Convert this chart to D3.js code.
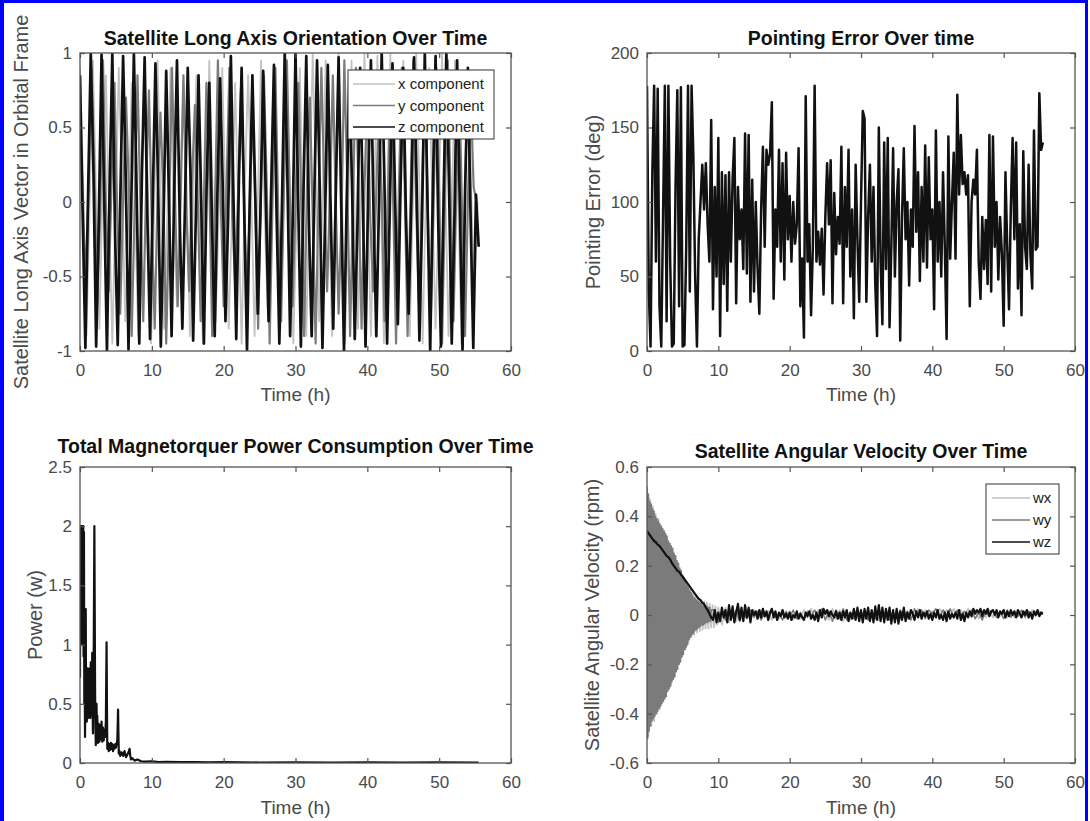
<!DOCTYPE html>
<html>
<head>
<meta charset="utf-8">
<script src="https://cdn.jsdelivr.net/npm/d3@7/dist/d3.min.js"></script>
<style>
  body { margin: 0; background: #fff; }
  svg { font-family: "Liberation Sans", Arial, Helvetica, sans-serif; display: block; }
</style>
</head>
<body>
<script>
// shared time axis
var timeTicks = [0, 10, 20, 30, 40, 50, 60];

// ---- top left: long axis vector components (sampled every step hours) ----
var orientTicks = [-1, -0.5, 0, 0.5, 1];
var orientStepX = 0.45, orientStepY = 0.4, orientStepZ = 0.375;
var orientX = [
  0.9, 0.1, -0.9, 0.0, 0.95, 0.0, -0.85, 0.1, 0.85, -0.1, -0.95, 0.0,
  0.9, 0.1, -0.8, -0.1, 0.8, 0.0, -0.9, 0.1, 0.85, 0.1, -0.95, 0.0,
  0.95, 0.0, -0.85, -0.1, 0.9, -0.1, -0.7, 0.1, 0.8, 0.1, -0.9, 0.0,
  0.85, 0.0, -0.95, 0.05, 0.95, 0.1, -0.8, 0.0, 0.9, 0.0, -0.85, -0.1,
  0.8, -0.1, -0.95, 0.1, 0.85, 0.05, -0.9, 0.0, 0.95, 0.0, -0.7, 0.1,
  0.9, 0.1, -0.85, 0.0, 0.85, 0.0, -0.95, -0.1, 0.9, -0.1, -0.9, 0.1,
  1.0, 0.1, -0.8, 0.0, 0.95, 0.0, -0.9, 0.05, 1.0, 0.1, -0.95, 0.0,
  0.95, -0.1, -0.85, 0.1, 1.0, 0.0, -0.9, 0.0, 0.98, 0.1, -0.95, -0.1,
  1.0, 0.0, -0.8, 0.1, 0.95, -0.1, -0.9, 0.0, 1.0, 0.1, -0.95, 0.05,
  0.9, 0.0, -0.85, 0.0, 1.0, 0.1, -0.9, -0.1, 0.95, 0.0, -0.95, 0.1,
  0.9, 0.1, -0.7, 0.0
];
var orientY = [
  0.6, 0.0, -0.55, 0.1, 0.9, 0.2, -0.7, -0.1, 0.95, 0.0, -0.6, 0.15,
  0.8, -0.1, -0.75, 0.0, 0.7, 0.1, -0.9, -0.05, 0.85, 0.0, -0.8, 0.1,
  0.75, -0.15, -0.85, 0.05, 0.6, 0.05, -0.95, -0.1, 0.9, 0.1, -0.7, 0.0,
  0.85, -0.05, -0.6, 0.15, 0.65, 0.0, -0.8, -0.1, 0.8, 0.15, -0.9, 0.0,
  0.95, 0.0, -0.7, 0.1, 0.9, -0.1, -0.55, 0.05, 0.75, 0.1, -0.65, -0.1,
  0.6, 0.0, -0.85, 0.1, 0.85, 0.1, -0.95, 0.0, 0.9, -0.1, -0.8, 0.1,
  0.95, 0.05, -0.7, -0.05, 0.8, 0.0, -0.9, 0.1, 0.7, -0.1, -0.95, 0.0,
  0.9, 0.1, -0.6, 0.05, 0.85, 0.0, -0.75, -0.1, 0.95, 0.15, -0.9, 0.0,
  0.9, 0.0, -0.85, 0.1, 0.7, -0.1, -0.6, 0.0, 0.6, 0.05, -0.8, -0.1,
  0.8, 0.0, -0.95, 0.1, 0.9, 0.1, -0.9, 0.0, 0.95, -0.05, -0.7, 0.05,
  0.85, 0.0, -0.85, -0.1, 0.9, 0.1, -0.95, 0.0, 0.95, 0.0, -0.8, 0.1,
  0.8, -0.1, -0.9, 0.0, 0.7, 0.1, 0.0
];
var orientZ = [
  0.85, -0.1, -0.98, 0.05, 1.0, 0.2, -0.97, -0.1, 0.99, 0.0, -1.0, 0.1,
  1.0, -0.2, -0.96, 0.05, 0.98, 0.15, -0.99, -0.05, 1.0, 0.1, -0.95, 0.2,
  0.97, -0.1, -0.92, 0.0, 0.93, 0.1, -0.97, -0.15, 0.88, 0.05, -0.9, 0.1,
  0.95, -0.1, -0.85, 0.0, 0.9, 0.2, -0.93, -0.1, 0.85, 0.0, -0.95, 0.1,
  0.8, -0.15, -0.9, 0.05, 0.83, 0.1, -0.8, -0.1, 0.98, 0.0, -0.92, 0.15,
  0.9, -0.1, -1.0, 0.0, 0.85, 0.1, -0.75, -0.05, 0.88, 0.0, -0.8, 0.1,
  0.92, -0.1, -0.95, 0.0, 1.0, 0.15, -0.9, -0.1, 1.0, 0.0, -0.97, 0.1,
  0.98, -0.15, -0.9, 0.05, 0.95, 0.1, -0.98, -0.1, 0.92, 0.0, -0.85, 0.1,
  0.97, -0.05, -1.0, 0.0, 0.85, 0.1, -0.92, -0.15, 0.9, 0.0, -0.97, 0.1,
  0.95, -0.1, -0.9, 0.0, 1.0, 0.15, -0.95, -0.05, 0.93, 0.0, -0.82, 0.1,
  0.9, -0.1, -0.75, 0.0, 0.97, 0.1, -0.93, -0.1, 1.0, 0.0, -1.0, 0.1,
  0.98, -0.15, -0.97, 0.05, 1.0, 0.1, -0.95, -0.1, 0.95, 0.0, -1.0, 0.1,
  0.9, -0.1, -0.98, 0.05, -0.3
];
var orientLegend = ["x component", "y component", "z component"];

// ---- top right: pointing error (deg), every 0.25 h ----
var pointTicks = [0, 50, 100, 150, 200];
var pointStep = 0.25;
var pointErr = [
  178, 40, 3, 120, 178, 60, 176, 30, 3, 90, 178, 20, 178, 60, 3, 5,
  110, 175, 30, 177, 3, 4, 70, 178, 40, 178, 130, 50, 3, 75,
  100, 125, 95, 126, 85, 60, 155, 28, 110, 50, 143, 10, 120, 45, 118, 27,
  120, 60, 115, 143, 32, 110, 75, 95, 55, 146, 52, 145, 33, 115, 40, 100,
  55, 25, 95, 137, 70, 135, 125, 132, 167, 35, 95, 70, 135, 60, 126, 48,
  133, 75, 104, 60, 100, 72, 85, 136, 30, 62, 9, 171, 60, 85, 24, 70,
  178, 60, 80, 58, 82, 38, 90, 126, 85, 128, 32, 106, 65, 90, 72, 137,
  32, 110, 70, 135, 50, 95, 22, 125, 75, 33, 100, 161, 156, 33, 90, 125,
  60, 110, 45, 10, 150, 60, 18, 140, 55, 143, 16, 70, 136, 50, 100, 122,
  7, 90, 136, 75, 100, 44, 95, 70, 151, 80, 120, 47, 110, 60, 138, 56,
  130, 75, 95, 28, 148, 60, 100, 50, 120, 70, 8, 144, 62, 100, 133, 62,
  172, 105, 145, 112, 120, 105, 118, 30, 100, 115, 105, 135, 60, 35, 90, 55,
  88, 45, 145, 40, 144, 70, 100, 48, 90, 65, 17, 120, 70, 28, 95, 143,
  75, 140, 42, 85, 24, 134, 70, 55, 125, 65, 42, 148, 68, 70, 173, 135, 140
];

// ---- bottom left: magnetorquer power (W) ----
var powerTicks = [0, 0.5, 1, 1.5, 2, 2.5];
var powerTime = [
  0, 0.05, 0.1, 0.15, 0.2, 0.25, 0.3, 0.35, 0.4, 0.45, 0.5, 0.55, 0.6, 0.65, 0.7, 0.75,
  0.8, 0.85, 0.9, 0.95, 1.0, 1.05, 1.1, 1.15, 1.2, 1.25, 1.3, 1.35, 1.4, 1.45, 1.5, 1.55,
  1.6, 1.65, 1.7, 1.75, 1.8, 1.85, 1.9, 1.95, 2.0, 2.05, 2.1, 2.15, 2.2, 2.25, 2.3, 2.35,
  2.4, 2.5, 2.6, 2.7, 2.8, 2.9, 3.0, 3.1, 3.2, 3.3, 3.4, 3.5, 3.6, 3.7, 3.75, 3.8,
  3.9, 4.0, 4.1, 4.2, 4.3, 4.4, 4.5, 4.6, 4.7, 4.8, 4.9, 5.0, 5.1, 5.2, 5.3, 5.35,
  5.4, 5.5, 5.6, 5.8, 6.0, 6.2, 6.4, 6.6, 6.8, 6.9, 7.0, 7.1, 7.3, 7.6, 8.0, 8.5,
  9, 10, 11, 12, 14, 16, 18, 20, 25, 30, 35, 40, 45, 50, 55.5
];
var powerVal = [
  0.72, 2.0, 1.2, 2.0, 1.6, 2.0, 1.0, 2.0, 1.5, 2.0, 0.9, 1.95, 0.5, 0.8, 0.22, 0.9,
  1.3, 0.4, 0.75, 0.35, 0.8, 0.4, 0.7, 0.38, 0.78, 0.45, 0.8, 0.4, 0.65, 0.38, 0.85, 0.5,
  0.75, 0.4, 0.93, 0.6, 0.25, 0.5, 0.8, 1.4, 2.0, 1.3, 0.6, 0.3, 0.15, 0.3, 0.5, 0.25,
  0.4, 0.17, 0.33, 0.18, 0.32, 0.2, 0.35, 0.18, 0.3, 0.19, 0.28, 0.22, 0.35, 1.02, 0.5, 0.12,
  0.17, 0.1, 0.16, 0.11, 0.17, 0.12, 0.16, 0.1, 0.15, 0.12, 0.16, 0.13, 0.16, 0.2, 0.45, 0.25,
  0.08, 0.1, 0.06, 0.09, 0.06, 0.1, 0.05, 0.07, 0.1, 0.12, 0.06, 0.03, 0.04, 0.02, 0.03, 0.015,
  0.012, 0.015, 0.008, 0.01, 0.007, 0.008, 0.005, 0.007, 0.004, 0.005, 0.004, 0.005, 0.004, 0.005, 0.004
];

// ---- bottom right: angular velocity (rpm) ----
var omegaTicks = [-0.6, -0.4, -0.2, 0, 0.2, 0.4, 0.6];
var omegaLegend = ["wx", "wy", "wz"];
// wx: every 0.2 h until 10 h, then every 0.5 h from 10.5 h
var wxEarly = [
  0.5, -0.49, 0.47, -0.45, 0.44, -0.43,
  0.41, -0.4, 0.39, -0.38, 0.36,
  -0.35, 0.34, -0.33, 0.31, -0.3,
  0.29, -0.28, 0.26, -0.25, 0.24,
  -0.22, 0.21, -0.19, 0.18, -0.16,
  0.15, -0.14, 0.12, -0.11, 0.1,
  -0.09, 0.085, -0.08, 0.075, -0.07,
  0.065, -0.065, 0.06, -0.06, 0.055,
  -0.055, 0.05, -0.055, 0.045, -0.05,
  0.04, -0.05, 0.035, -0.04, 0.03
];
var wxLate = [
  -0.04, 0.03, -0.03, 0.02, -0.025, 0.025, -0.02, 0.015, -0.02, 0.02,
  -0.015, 0.02, -0.01, 0.015, -0.02, 0.01, -0.015, 0.02, -0.01, 0.015,
  -0.02, 0.01, -0.015, 0.02, -0.01, 0.025, -0.015, 0.02, -0.01, 0.015,
  -0.02, 0.025, -0.015, 0.02, -0.025, 0.015, -0.02, 0.02, -0.01, 0.015,
  -0.015, 0.02, -0.01, 0.015, -0.02, 0.01, -0.015, 0.02, -0.01, 0.015,
  -0.01, 0.02, -0.015, 0.02, -0.01, 0.025, -0.015, 0.02, -0.01, 0.015,
  0.0, 0.025, 0.005, 0.02, -0.005, 0.025, 0.0, 0.02, -0.01, 0.025,
  -0.01, 0.02, -0.015, 0.015, -0.01, 0.02, -0.01, 0.015, -0.005, 0.02,
  -0.01, 0.015, -0.01, 0.02, -0.005, 0.015, -0.01, 0.02, -0.005, 0.015,
  0.01
];
// wy: every 0.1 h until 9 h, then every 0.5 h from 9.5 h
var wyEarly = [
  0.52, -0.5, 0.49, -0.47, 0.46, -0.45, 0.45, -0.43, 0.43, -0.42,
  0.42, -0.41, 0.4, -0.4, 0.39, -0.39, 0.38, -0.38, 0.37, -0.37,
  0.36, -0.36, 0.35, -0.35, 0.34, -0.34, 0.33, -0.33, 0.32, -0.31,
  0.3, -0.3, 0.29, -0.29, 0.28, -0.27, 0.27, -0.26, 0.25, -0.25,
  0.24, -0.23, 0.22, -0.22, 0.21, -0.2, 0.19, -0.19, 0.18, -0.17,
  0.16, -0.16, 0.15, -0.14, 0.14, -0.13, 0.12, -0.12, 0.11, -0.1,
  0.1, -0.09, 0.09, -0.08, 0.08, -0.075, 0.07, -0.065, 0.065, -0.06,
  0.06, -0.055, 0.055, -0.05, 0.05, -0.045, 0.045, -0.04, 0.04, -0.04,
  0.04, -0.035, 0.035, -0.03, 0.035, -0.03, 0.03, -0.025, 0.03, -0.025,
  0.02
];
var wyLate = [
  0.02, -0.03, 0.015, -0.02, 0.025, -0.01, 0.02, -0.025, 0.01, -0.015,
  0.02, -0.01, 0.015, -0.02, 0.01, -0.015, 0.02, -0.01, 0.005, -0.02,
  0.015, -0.01, 0.02, -0.015, 0.01, -0.02, 0.015, -0.005, 0.02, -0.015,
  0.025, -0.02, 0.015, -0.025, 0.02, -0.015, 0.025, -0.02, 0.01, -0.015,
  0.02, -0.01, 0.015, -0.02, 0.01, -0.015, 0.02, -0.005, 0.015, -0.02,
  0.01, -0.015, 0.02, -0.01, 0.015, -0.02, 0.025, -0.01, 0.02, -0.015,
  0.02, 0.005, 0.025, -0.005, 0.02, 0.0, 0.025, -0.01, 0.02, -0.005,
  0.015, -0.01, 0.02, -0.015, 0.01, -0.02, 0.015, -0.005, 0.02, -0.01,
  0.015, -0.015, 0.02, -0.01, 0.015, -0.005, 0.02, -0.01, 0.015, -0.005,
  0.01, 0.0, 0.005
];
// wz: every 0.25 h
var wzStep = 0.25;
var wz = [
  0.34, 0.33, 0.32, 0.31, 0.3, 0.295, 0.285, 0.28, 0.27, 0.26, 0.25, 0.24,
  0.235, 0.225, 0.21, 0.2, 0.19, 0.18, 0.175, 0.165, 0.155, 0.145, 0.135, 0.125,
  0.115, 0.105, 0.095, 0.085, 0.075, 0.065, 0.06, 0.05, 0.045, 0.03, 0.02, 0.005, -0.01,
  -0.02, 0.02, -0.03, 0.01, -0.025, 0.03, -0.01, 0.02,
  -0.03, 0.04, -0.02, 0.035, -0.03, 0.01, 0.045, -0.02,
  0.03, -0.025, 0.04, -0.01, 0.03, -0.03, 0.02, 0.0,
  0.015, -0.015, 0.02, -0.01, 0.025, -0.005, 0.015, -0.02,
  0.01, 0.025, -0.01, 0.015, -0.02, 0.01, -0.005, 0.02,
  -0.01, 0.005, -0.015, 0.01, -0.02, 0.0, -0.01, 0.015,
  -0.015, 0.005, -0.01, -0.02, 0.01, -0.005, 0.015, -0.015,
  0.0, -0.02, 0.01, -0.025, 0.02, -0.01, 0.025, 0.005,
  0.02, -0.005, 0.015, 0.0, -0.01, 0.015, -0.015, 0.01,
  -0.02, 0.015, -0.01, 0.02, -0.025, 0.01, -0.015, 0.025,
  -0.02, 0.03, -0.025, 0.02, -0.03, 0.025, -0.015, 0.03,
  -0.025, 0.02, -0.03, 0.035, -0.02, 0.04, -0.025, 0.03,
  -0.03, 0.025, -0.02, 0.03, -0.035, 0.02, -0.03, 0.025,
  -0.035, 0.015, -0.02, 0.03, -0.025, 0.01, -0.015, 0.02,
  0.005, -0.02, 0.015, -0.01, 0.02, -0.015, 0.01, -0.005,
  0.015, -0.015, 0.005, -0.02, 0.01, -0.01, 0.02, -0.015,
  0.0, -0.02, 0.01, -0.025, 0.015, -0.015, 0.005, -0.01,
  0.01, -0.015, 0.02, -0.02, 0.005, -0.025, 0.01, -0.01,
  0.015, -0.005, 0.025, 0.005, 0.02, 0.01, 0.025, -0.005,
  0.02, 0.005, 0.025, -0.005, 0.015, 0.02, 0.0, 0.02,
  -0.01, 0.015, 0.005, 0.02, -0.01, 0.015, -0.005, 0.02,
  0.0, 0.015, -0.01, 0.02, 0.005, -0.01, 0.015, 0.0,
  0.02, -0.01, 0.01, -0.015, 0.015, 0.0, 0.02, -0.005,
  0.01, 0.005
];

var lightGray = "#c2c2c2",
  midGray = "#7b7b7b",
  dark = "#111111",
  axisColor = "#555555",
  textColor = "#4a4a4a";

var svg = d3
  .select("body")
  .append("svg")
  .attr("width", 1090)
  .attr("height", 821);

svg.append("rect").attr("width", 1090).attr("height", 821).attr("fill", "#fff");

// blue frame round the figure
svg.append("rect").attr("x", 0).attr("y", 0).attr("width", 4).attr("height", 821).attr("fill", "#0000ff");
svg.append("rect").attr("x", 0).attr("y", 0).attr("width", 1088).attr("height", 3).attr("fill", "#0000ff");
svg.append("rect").attr("x", 1085).attr("y", 0).attr("width", 3).attr("height", 821).attr("fill", "#0000ff");

// turn a uniformly sampled list into [t, v] pairs
function sampled(values, start, step) {
  return values.map(function (v, i) {
    return [start + i * step, v];
  });
}

var clipCount = 0;

function makePanel(cfg) {
  var x = d3.scaleLinear().domain([0, 60]).range([cfg.left, cfg.right]);
  var y = d3.scaleLinear().domain(cfg.yDomain).range([cfg.bottom, cfg.top]);

  var g = svg.append("g");
  var clipId = "clip" + clipCount++;
  g.append("clipPath")
    .attr("id", clipId)
    .append("rect")
    .attr("x", cfg.left)
    .attr("y", cfg.top)
    .attr("width", cfg.right - cfg.left)
    .attr("height", cfg.bottom - cfg.top);

  var plot = g.append("g").attr("clip-path", "url(#" + clipId + ")");

  var line = d3
    .line()
    .x(function (d) { return x(d[0]); })
    .y(function (d) { return y(d[1]); });

  cfg.series.forEach(function (s) {
    plot
      .append("path")
      .datum(s.points)
      .attr("fill", "none")
      .attr("stroke", s.color)
      .attr("stroke-width", s.width || 1.8)
      .attr("stroke-linejoin", "round")
      .attr("d", line);
  });

  // axes, ticks pointing inwards on all four sides
  var fmt = function (d) { return String(d); };
  var bottomAxis = g
    .append("g")
    .attr("transform", "translate(0," + cfg.bottom + ")")
    .call(d3.axisBottom(x).tickValues(timeTicks).tickSizeInner(-5).tickSizeOuter(0).tickPadding(13).tickFormat(fmt));
  var topAxis = g
    .append("g")
    .attr("transform", "translate(0," + cfg.top + ")")
    .call(d3.axisTop(x).tickValues(timeTicks).tickSizeInner(-5).tickSizeOuter(0).tickFormat(""));
  var leftAxis = g
    .append("g")
    .attr("transform", "translate(" + cfg.left + ",0)")
    .call(d3.axisLeft(y).tickValues(cfg.yTicks).tickSizeInner(-5).tickSizeOuter(0).tickPadding(8).tickFormat(fmt));
  var rightAxis = g
    .append("g")
    .attr("transform", "translate(" + cfg.right + ",0)")
    .call(d3.axisRight(y).tickValues(cfg.yTicks).tickSizeInner(-5).tickSizeOuter(0).tickFormat(""));

  [bottomAxis, topAxis, leftAxis, rightAxis].forEach(function (a) {
    a.attr("font-family", null).attr("font-size", 17);
    a.select(".domain").remove();
    a.selectAll(".tick line").attr("stroke", axisColor).attr("stroke-width", 1.2);
    a.selectAll(".tick text").attr("fill", textColor);
  });

  g.append("rect")
    .attr("x", cfg.left)
    .attr("y", cfg.top)
    .attr("width", cfg.right - cfg.left)
    .attr("height", cfg.bottom - cfg.top)
    .attr("fill", "none")
    .attr("stroke", axisColor)
    .attr("stroke-width", 1.3);

  // title, axis labels
  g.append("text")
    .attr("x", (cfg.left + cfg.right) / 2)
    .attr("y", cfg.titleY)
    .attr("text-anchor", "middle")
    .attr("font-weight", "bold")
    .attr("font-size", 19.5)
    .attr("fill", "#111")
    .text(cfg.title);

  g.append("text")
    .attr("x", (cfg.left + cfg.right) / 2)
    .attr("y", cfg.xLabelY)
    .attr("text-anchor", "middle")
    .attr("font-size", 19)
    .attr("fill", textColor)
    .text("Time (h)");

  g.append("text")
    .attr("transform", "translate(" + cfg.yLabelX + "," + (cfg.top + cfg.bottom) / 2 + ") rotate(-90)")
    .attr("text-anchor", "middle")
    .attr("font-size", 20)
    .attr("fill", textColor)
    .text(cfg.yLabel);

  if (cfg.legend) {
    var lg = cfg.legend;
    var leg = g.append("g");
    leg
      .append("rect")
      .attr("x", lg.x)
      .attr("y", lg.y)
      .attr("width", lg.w)
      .attr("height", lg.h)
      .attr("fill", "#fff")
      .attr("stroke", "#333")
      .attr("stroke-width", 1);
    lg.labels.forEach(function (name, i) {
      var yy = lg.y + lg.first + i * lg.gap;
      leg
        .append("line")
        .attr("x1", lg.x + lg.lineFrom)
        .attr("x2", lg.x + lg.lineTo)
        .attr("y1", yy)
        .attr("y2", yy)
        .attr("stroke", cfg.series[i].color)
        .attr("stroke-width", 1.6);
      leg
        .append("text")
        .attr("x", lg.x + lg.lineTo + 3)
        .attr("y", yy)
        .attr("dy", "0.35em")
        .attr("font-size", 15)
        .attr("fill", "#222")
        .text(name);
    });
  }
}

// top left
makePanel({
  left: 80, right: 511, top: 53, bottom: 351,
  yDomain: [-1, 1], yTicks: orientTicks,
  title: "Satellite Long Axis Orientation Over Time",
  titleY: 45, xLabelY: 401, yLabelX: 28,
  yLabel: "Satellite Long Axis Vector in Orbital Frame",
  series: [
    { points: sampled(orientX, 0, orientStepX), color: lightGray, width: 1.8 },
    { points: sampled(orientY, 0, orientStepY), color: midGray, width: 2.2 },
    { points: sampled(orientZ, 0, orientStepZ), color: dark, width: 2.7 }
  ],
  legend: { labels: orientLegend, x: 348, y: 70, w: 146, h: 69, first: 14, gap: 21.5, lineFrom: 5, lineTo: 47 }
});

// top right
makePanel({
  left: 647, right: 1075, top: 53, bottom: 351,
  yDomain: [0, 200], yTicks: pointTicks,
  title: "Pointing Error Over time",
  titleY: 45, xLabelY: 401, yLabelX: 600,
  yLabel: "Pointing Error (deg)",
  series: [{ points: sampled(pointErr, 0, pointStep), color: dark, width: 2.5 }]
});

// bottom left
makePanel({
  left: 80, right: 511, top: 467, bottom: 763,
  yDomain: [0, 2.5], yTicks: powerTicks,
  title: "Total Magnetorquer Power Consumption Over Time",
  titleY: 453, xLabelY: 814, yLabelX: 42,
  yLabel: "Power (w)",
  series: [{
    points: powerTime.map(function (t, i) { return [t, powerVal[i]]; }),
    color: dark,
    width: 2.2
  }]
});

// bottom right
makePanel({
  left: 647, right: 1075, top: 467, bottom: 763,
  yDomain: [-0.6, 0.6], yTicks: omegaTicks,
  title: "Satellite Angular Velocity Over Time",
  titleY: 458, xLabelY: 814, yLabelX: 599,
  yLabel: "Satellite Angular Velocity (rpm)",
  series: [
    { points: sampled(wxEarly, 0, 0.2).concat(sampled(wxLate, 10.5, 0.5)), color: lightGray, width: 1.8 },
    { points: sampled(wyEarly, 0, 0.1).concat(sampled(wyLate, 9.5, 0.5)), color: midGray, width: 1.6 },
    { points: sampled(wz, 0, wzStep), color: dark, width: 2.2 }
  ],
  legend: { labels: omegaLegend, x: 986, y: 484, w: 73, h: 70, first: 14, gap: 22, lineFrom: 6, lineTo: 44 }
});
</script>
</body>
</html>
